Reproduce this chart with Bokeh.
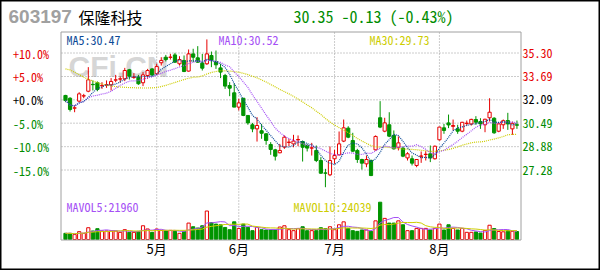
import pandas as pd
from bokeh.plotting import figure
from bokeh.models import ColumnDataSource, Range1d, Label
from bokeh.core.properties import value
from bokeh.embed import file_html
from bokeh.resources import INLINE

# ---- data -------------------------------------------------------------
stock_code = "603197"
stock_name = "保隆科技"

opens = [32.39, 32.20, 31.52, 32.00, 32.35, 32.68, 33.15, 33.26, 33.05, 33.10,
         33.12, 33.44, 33.51, 33.53, 34.15, 33.63, 33.64, 33.26, 33.76, 34.21,
         33.87, 34.63, 35.01, 35.00, 35.17, 34.56, 34.79, 34.06, 35.24, 34.97,
         34.60, 34.56, 35.13, 34.72, 34.28, 33.76, 33.07, 32.57, 31.59, 32.20,
         31.02, 30.38, 30.10, 29.97, 29.76, 29.03, 28.66, 28.46, 28.85, 29.17,
         29.07, 29.35, 29.23, 28.96, 28.78, 28.62, 27.93, 27.08, 26.95, 28.05,
         28.32, 29.26, 30.15, 29.30, 28.62, 28.00, 27.70, 27.93, 28.66, 30.86,
         29.94, 30.38, 29.65, 28.84, 28.78, 28.11, 28.05, 27.59, 28.22, 28.34,
         28.39, 28.05, 29.35, 30.17, 30.51, 30.27, 30.10, 29.94, 30.47, 30.44,
         30.74, 30.60, 30.38, 30.86, 30.83, 29.94, 30.38, 30.67, 30.10, 30.38]
highs = [32.43, 32.27, 31.70, 32.61, 32.50, 34.33, 33.42, 33.35, 33.30, 33.42,
         33.58, 33.80, 33.71, 34.28, 34.21, 33.92, 33.80, 33.99, 34.21, 34.26,
         34.56, 35.01, 35.17, 35.24, 35.31, 35.08, 35.13, 35.54, 35.59, 35.77,
         35.24, 36.23, 35.40, 35.47, 34.56, 33.87, 33.30, 33.19, 32.16, 32.20,
         31.02, 30.51, 30.90, 30.44, 29.80, 29.19, 28.73, 29.07, 29.65, 29.42,
         29.69, 29.65, 29.30, 29.07, 29.14, 28.96, 28.16, 27.36, 28.89, 28.66,
         29.92, 30.74, 30.28, 29.83, 28.73, 28.05, 28.27, 28.00, 29.65, 32.00,
         30.86, 31.24, 29.99, 29.58, 28.89, 28.50, 28.27, 28.00, 28.55, 28.57,
         28.96, 28.96, 30.24, 30.44, 31.08, 30.74, 30.38, 30.58, 30.67, 30.79,
         30.97, 30.83, 30.79, 32.20, 30.90, 30.51, 30.74, 31.20, 30.60, 30.67]
lows = [31.93, 31.29, 31.24, 31.93, 32.20, 32.61, 32.73, 32.68, 32.84, 32.91,
        32.73, 33.30, 33.26, 33.37, 33.48, 33.53, 33.12, 33.03, 33.53, 33.71,
        33.80, 34.44, 34.72, 34.85, 34.63, 34.44, 33.99, 34.03, 34.67, 34.63,
        34.10, 34.49, 34.33, 34.21, 33.58, 32.84, 32.34, 31.59, 31.36, 30.97,
        30.38, 29.87, 29.23, 29.42, 29.01, 28.32, 27.93, 28.43, 28.73, 28.91,
        28.84, 28.91, 27.86, 28.55, 28.27, 27.82, 27.02, 26.10, 26.86, 27.70,
        28.27, 29.19, 29.46, 28.50, 27.77, 27.31, 27.47, 26.86, 28.62, 30.15,
        29.87, 29.53, 28.68, 28.62, 28.16, 27.93, 27.59, 27.47, 27.77, 27.93,
        27.82, 28.00, 29.30, 29.76, 30.15, 29.99, 29.76, 29.87, 30.33, 30.33,
        30.38, 30.10, 29.87, 30.60, 29.76, 29.87, 30.10, 30.03, 29.69, 30.10]
closes = [32.04, 31.43, 31.54, 32.50, 32.37, 33.46, 33.13, 32.80, 33.08, 33.13,
          33.35, 33.46, 33.53, 34.10, 33.71, 33.65, 33.19, 33.80, 34.10, 33.80,
          34.37, 34.79, 34.85, 35.02, 34.67, 34.85, 34.03, 35.24, 35.01, 34.67,
          34.26, 35.24, 34.79, 34.49, 33.99, 33.03, 32.89, 31.59, 31.88, 31.02,
          30.51, 30.10, 30.33, 29.80, 29.30, 28.69, 28.23, 28.62, 29.53, 29.19,
          29.26, 29.37, 28.84, 28.78, 28.80, 27.93, 27.06, 27.06, 27.93, 28.27,
          29.07, 30.17, 29.53, 28.57, 28.00, 27.75, 28.00, 26.90, 29.58, 30.22,
          30.51, 29.60, 28.73, 29.14, 28.23, 28.39, 27.75, 28.00, 28.24, 28.36,
          28.11, 28.91, 30.22, 29.99, 30.37, 30.33, 29.94, 30.55, 30.49, 30.75,
          30.56, 30.44, 30.76, 31.24, 29.83, 30.44, 30.66, 30.44, 30.48, 30.35]
volumes = [16700, 16700, 13300, 21200, 16700, 31800, 23000, 29200, 23000, 23000,
           23100, 22900, 19300, 26500, 19400, 19300, 22000, 37100, 28400, 19300,
           28300, 24600, 23900, 24700, 22000, 16700, 22000, 44300, 34500, 31000,
           37100, 76900, 45800, 41600, 39800, 32600, 26500, 47700, 29900, 41600,
           32600, 23900, 32600, 26500, 25700, 25700, 25600, 33700, 37100, 26500,
           23900, 29200, 34500, 23900, 23900, 23900, 31800, 29200, 34500, 26500,
           39800, 47700, 30000, 23900, 22000, 25700, 25700, 22000, 50400, 100700,
           57000, 44300, 44300, 50400, 39800, 23900, 23900, 30000, 30000, 30000,
           25700, 30000, 41600, 25700, 39800, 30000, 25700, 30000, 19400, 19400,
           20500, 17500, 24500, 38500, 29590, 21500, 20800, 23900, 22100, 21500]
# 30-day average for the first sessions (depends on closes before the window)
ma30_lead = [34.21, 34.14, 33.98, 33.82, 33.64, 33.50, 33.38, 33.27, 33.18, 33.10,
             33.04, 33.00, 32.97, 32.95, 32.93, 32.92, 32.91, 32.90, 32.90, 32.91,
             32.93, 33.00, 33.08, 33.18, 33.28, 33.38, 33.48, 33.57, 33.64]

month_ticks = [20, 38, 59, 82]
month_names = ["5月", "6月", "7月", "8月"]
base_price = 32.09
pct_levels = [10, 5, 0, -5, -10, -15]

# ---- styling ----------------------------------------------------------
RED = "#e60000"
GREEN = "#009400"
TXT_GREEN = "#008c00"
MA5_C = "#0b4a97"
MA10_C = "#a550f5"
MA30_C = "#cdcd00"
GRID_C = "#999999"
FRAME_C = "#a0a0a0"
MONO = "'Noto Sans Mono CJK SC', 'DejaVu Sans Mono', monospace"
CJK = "Noto Sans CJK SC"

# ---- page geometry (canvas pixels) ------------------------------------
W, H = 600, 270
X0, DX = 65.0, 4.56            # centre of first session, pixels per session
PY_HI, PY_LO = 52.5, 169.5     # rows of the highest and lowest scale levels
VOL_BASE, VOL_PER_PX = 239.0, 2700.0
FL, FR, FT, FB = 60.5, 520.5, 31.5, 239.5   # inner chart box

price_levels = [round(base_price * (1 + q / 100), 2) for q in pct_levels]
k = (price_levels[0] - price_levels[-1]) / (PY_LO - PY_HI)


def x_of(px):
    return (px - X0) / DX


def y_of(py):
    return price_levels[0] - (py - PY_HI) * k


# ---- derived series ---------------------------------------------------
df = pd.DataFrame(dict(o=opens, h=highs, l=lows, c=closes, v=volumes))
df["i"] = range(len(df))
df["ma5"] = df.c.rolling(5, min_periods=1).mean()
df["ma10"] = df.c.rolling(10, min_periods=1).mean()
ma30 = df.c.rolling(30).mean()
ma30.iloc[:len(ma30_lead)] = ma30_lead
df["ma30"] = ma30
df["mv5"] = df.v.rolling(5, min_periods=1).mean()
df["mv10"] = df.v.rolling(10, min_periods=1).mean()
df["up"] = df.c >= df.o
df["top"] = df[["o", "c"]].max(axis=1)
df["bot"] = df[["o", "c"]].min(axis=1)
df["col"] = df.up.map({True: RED, False: GREEN})

src = ColumnDataSource(df)
up = ColumnDataSource(df[df.up])
dn = ColumnDataSource(df[~df.up])

# ---- figure: the whole page is one frame --------------------------------
p = figure(width=W, height=H, output_backend="svg", toolbar_location=None,
           x_range=Range1d(x_of(0), x_of(W)), y_range=Range1d(y_of(H), y_of(0)),
           x_axis_location=None, y_axis_location=None, min_border=0)
p.extra_y_ranges = {"vol": Range1d((VOL_BASE - H) * VOL_PER_PX, VOL_BASE * VOL_PER_PX)}
p.grid.visible = False
p.background_fill_color = "white"
p.border_fill_color = "white"
p.outline_line_color = "black"
p.outline_line_width = 2

# dotted grid: price levels across, month starts down
p.segment(x0=x_of(FL + 0.5), x1=x_of(FR - 0.5), y0=price_levels, y1=price_levels,
          line_color=GRID_C, line_dash="1 2", line_width=1)
p.segment(x0=month_ticks, x1=month_ticks, y0=y_of(FT + 0.5), y1=y_of(FB - 0.5),
          line_color=GRID_C, line_dash="1 2", line_width=1)

p.add_layout(Label(x=68, y=H - 66, x_units="screen", y_units="screen", text="CFi.CN",
                   text_font="Liberation Sans", text_font_style="bold",
                   text_font_size="30px", text_color="#d6d6d6",
                   text_baseline="middle", level="underlay"))

# volume panel
p.vbar("i", 0.7, "v", 0, source=dn, y_range_name="vol",
       fill_color=GREEN, line_color=GREEN)
p.vbar("i", 0.7, "v", 0, source=up, y_range_name="vol",
       fill_color="white", line_color=RED)
p.line("i", "mv5", source=src, y_range_name="vol", color=MA10_C, line_width=1)
p.line("i", "mv10", source=src, y_range_name="vol", color=MA30_C, line_width=1)

# candles
p.segment("i", "l", "i", "h", source=src, color="col", line_width=1)
p.vbar("i", 0.7, "top", "bot", source=dn, fill_color=GREEN, line_color=GREEN)
p.vbar("i", 0.7, "top", "bot", source=up, fill_color="white", line_color=RED)

# moving averages
p.line("i", "ma30", source=src, color=MA30_C, line_dash="1 1", line_width=1.2)
p.line("i", "ma10", source=src, color=MA10_C, line_dash="1 1", line_width=1.2)
p.line("i", "ma5", source=src, color=MA5_C, line_dash="1 1", line_width=1.2)

# inner chart box
p.quad(left=x_of(FL), right=x_of(FR), top=y_of(FT), bottom=y_of(FB),
       fill_color=None, line_color=FRAME_C, line_width=1)

# month labels under the chart
p.text(x=month_ticks, y=y_of(247.5), text=month_names, text_align="center",
       text_baseline="middle", text_font=value(CJK), text_font_size="13px",
       text_color="black")


def put(px, py, text, **kw):
    kw.setdefault("text_baseline", "middle")
    return Label(x=px, y=H - py, x_units="screen", y_units="screen", text=text, **kw)


# percentage scale (left) and price scale (right)
for q, lvl in zip(pct_levels, price_levels):
    col = RED if q > 0 else ("black" if q == 0 else TXT_GREEN)
    p.add_layout(Label(x=12.5, y=lvl, x_units="screen", y_units="data",
                       text=f"{q:+.1f}%", text_color=col, text_font=MONO,
                       text_font_size="12px", text_baseline="middle"))
    p.add_layout(Label(x=522, y=lvl, x_units="screen", y_units="data",
                       text=f"{lvl:.2f}", text_color=col, text_font=MONO,
                       text_font_size="12px", text_baseline="middle"))

last = df.iloc[-1]
prev_close = df.c.iloc[-2]
chg = last.c - prev_close
pct = chg / prev_close * 100

p.add_layout(put(66, 38.5, f"MA5:{last.ma5:.2f}", text_color=MA5_C,
                 text_font=MONO, text_font_size="12px"))
p.add_layout(put(218, 38.5, f"MA10:{last.ma10:.2f}", text_color=MA10_C,
                 text_font=MONO, text_font_size="12px"))
p.add_layout(put(369, 38.5, f"MA30:{last.ma30:.2f}", text_color=MA30_C,
                 text_font=MONO, text_font_size="12px"))
p.add_layout(put(66, 206, f"MAVOL5:{last.mv5:.0f}", text_color=MA10_C,
                 text_font=MONO, text_font_size="12px"))
p.add_layout(put(293, 206, f"MAVOL10:{last.mv10:.0f}", text_color=MA30_C,
                 text_font=MONO, text_font_size="12px"))

# header line
p.add_layout(put(8, 16, stock_code, text_color="#a0a0a0", text_font="Liberation Sans",
                 text_font_style="bold", text_font_size="19px"))
p.add_layout(put(78, 16, stock_name, text_color="black", text_font=CJK,
                 text_font_size="16px"))
p.add_layout(put(293, 15, f"{last.c:.2f} {chg:+.2f} ({pct:+.2f}%)",
                 text_color=TXT_GREEN, text_font=MONO, text_font_size="16px"))

open("out.html", "w").write(file_html(p, INLINE))
